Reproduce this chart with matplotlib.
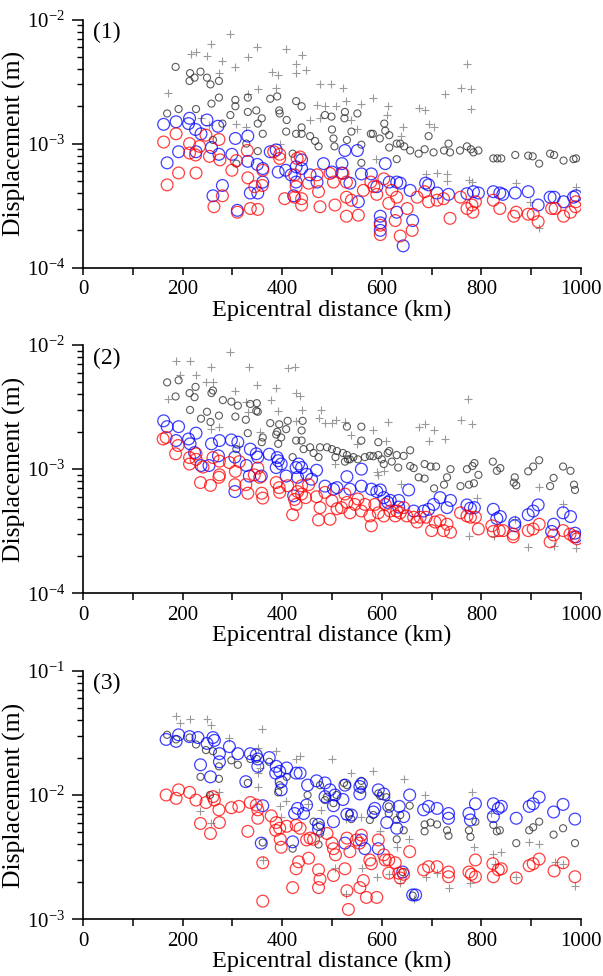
import numpy as np
import matplotlib
matplotlib.use("Agg")
import matplotlib.pyplot as plt
from matplotlib.ticker import LogLocator, MultipleLocator, FuncFormatter, NullFormatter

plt.rcParams['font.family'] = ['Liberation Serif', 'DejaVu Serif']
plt.rcParams['mathtext.fontset'] = 'custom'
plt.rcParams['mathtext.rm'] = 'Liberation Serif'
plt.rcParams['mathtext.it'] = 'Liberation Serif:italic'

# ---------------- Panel (1) ----------------
p1_plus = [(296, 7.7e-3), (171, 2.57e-3), (216, 5.3e-3), (227, 5.5e-3), (249, 5.07e-3), (258, 6.3e-3),
           (280, 4.6e-3), (273, 3.7e-3), (306, 4.15e-3), (331, 5.0e-3), (350, 6.0e-3), (408, 5.8e-3),
           (351, 2.78e-3), (331, 2.5e-3), (308, 1.45e-3), (328, 1.35e-3), (380, 3.8e-3), (392, 3.6e-3),
           (388, 2.8e-3), (428, 4.4e-3), (427, 3.7e-3), (395, 1.0e-3), (237, 1.6e-3), (254, 1.4e-3),
           (439, 5.2e-3), (447, 3.9e-3), (476, 3.05e-3), (499, 3.05e-3), (522, 2.8e-3), (528, 2.2e-3),
           (582, 2.35e-3), (470, 2.05e-3), (486, 2.0e-3), (509, 2.0e-3), (476, 1.6e-3), (455, 1.55e-3),
           (539, 1.55e-3), (551, 1.3e-3), (612, 2.0e-3), (610, 1.7e-3), (674, 1.95e-3), (686, 1.85e-3),
           (694, 1.45e-3), (704, 1.35e-3), (642, 1.35e-3), (639, 1.15e-3), (726, 2.5e-3), (759, 2.8e-3),
           (780, 2.75e-3), (780, 1.9e-3), (772, 4.4e-3), (589, 7.5e-4), (688, 5.7e-4), (710, 5.8e-4),
           (731, 5.7e-4), (731, 5.0e-4), (775, 5.1e-4), (782, 4.9e-4), (870, 4.8e-4), (898, 3.4e-4),
           (915, 2.1e-4), (990, 4.5e-4), (559, 2.1e-3)]
p1_gray = [(186, 4.15e-3), (215, 3.7e-3), (214, 3.2e-3), (224, 3.4e-3), (236, 3.8e-3), (249, 3.4e-3),
           (256, 3.0e-3), (273, 3.2e-3), (192, 1.9e-3), (169, 1.75e-3), (227, 1.9e-3), (258, 2.1e-3),
           (273, 2.35e-3), (280, 1.45e-3), (296, 1.7e-3), (306, 2.0e-3), (306, 2.25e-3), (331, 2.35e-3),
           (331, 1.8e-3), (348, 1.85e-3), (351, 1.45e-3), (359, 1.6e-3), (361, 1.2e-3), (376, 2.3e-3),
           (390, 2.4e-3), (394, 1.85e-3), (395, 1.75e-3), (409, 1.55e-3), (408, 1.25e-3), (428, 2.2e-3),
           (428, 1.2e-3), (351, 8.7e-4), (421, 8.3e-4), (328, 1.0e-3), (261, 1.07e-3), (308, 6.9e-4),
           (439, 2.0e-3), (439, 1.35e-3), (439, 1.2e-3), (456, 1.15e-3), (466, 1.05e-3), (473, 9.5e-4),
           (486, 1.7e-3), (499, 1.65e-3), (503, 1.1e-3), (505, 9.5e-4), (500, 1.3e-3), (526, 1.8e-3),
           (525, 1.6e-3), (530, 1.07e-3), (551, 1.75e-3), (539, 1.25e-3), (559, 9.8e-4), (559, 7.0e-4),
           (578, 1.2e-3), (582, 1.2e-3), (596, 1.1e-3), (605, 1.45e-3), (607, 1.27e-3), (615, 1.17e-3),
           (615, 9.3e-4), (630, 1.0e-3), (630, 7.5e-4), (637, 1.0e-3), (645, 9.5e-4), (657, 8.8e-4),
           (674, 8.3e-4), (686, 9.0e-4), (694, 1.15e-3), (704, 8.5e-4), (725, 8.8e-4), (734, 1.0e-3),
           (737, 8.5e-4), (757, 8.8e-4), (771, 9.5e-4), (779, 9.0e-4), (784, 8.5e-4), (794, 8.8e-4),
           (824, 7.6e-4), (832, 7.6e-4), (840, 7.6e-4), (868, 8.1e-4), (894, 8.0e-4), (903, 7.9e-4),
           (916, 6.9e-4), (938, 8.3e-4), (946, 8.1e-4), (965, 7.3e-4), (985, 7.5e-4), (990, 7.6e-4)]
p1_blue = [(162, 1.43e-3), (187, 1.5e-3), (214, 1.6e-3), (212, 1.45e-3), (226, 1.3e-3), (249, 1.55e-3),
           (237, 1.2e-3), (271, 1.38e-3), (306, 1.1e-3), (331, 1.15e-3), (169, 7.0e-4), (192, 8.6e-4),
           (227, 8.6e-4), (258, 9.3e-4), (273, 8.2e-4), (299, 8.2e-4), (331, 7.2e-4), (350, 6.8e-4),
           (361, 6.3e-4), (261, 3.8e-4), (280, 4.6e-4), (310, 2.9e-4), (336, 4.0e-4), (351, 4.0e-4),
           (361, 4.9e-4), (376, 8.6e-4), (388, 8.9e-4), (392, 5.9e-4), (407, 6.1e-4), (418, 5.6e-4),
           (428, 4.9e-4), (428, 6.5e-4), (423, 3.8e-4),
           (439, 7.4e-4), (439, 6.3e-4), (456, 5.6e-4), (470, 4.9e-4), (483, 6.9e-4), (500, 5.9e-4),
           (520, 6.9e-4), (526, 8.8e-4), (551, 8.8e-4), (520, 5.8e-4), (536, 4.8e-4), (553, 3.4e-4),
           (559, 5.7e-4), (579, 5.7e-4), (590, 4.5e-4), (607, 6.9e-4), (597, 2.6e-4), (597, 2.3e-4),
           (597, 2.0e-4), (615, 4.9e-4), (630, 4.9e-4), (630, 2.8e-4), (637, 4.8e-4), (657, 4.2e-4),
           (662, 2.4e-4), (643, 1.5e-4), (688, 4.8e-4), (694, 4.65e-4), (711, 4.0e-4), (734, 3.9e-4),
           (771, 3.95e-4), (784, 4.1e-4), (794, 4.0e-4), (824, 4.1e-4), (837, 4.0e-4), (843, 3.9e-4),
           (868, 4.0e-4), (894, 4.1e-4), (914, 3.2e-4), (938, 3.7e-4), (946, 3.7e-4), (965, 3.4e-4),
           (985, 3.7e-4), (990, 3.8e-4)]
p1_red = [(162, 1.03e-3), (187, 1.2e-3), (214, 1.0e-3), (214, 8.4e-4), (226, 8.1e-4), (234, 9.5e-4),
          (254, 7.9e-4), (247, 1.17e-3), (273, 1.08e-3), (275, 7.4e-4), (169, 4.65e-4), (192, 5.8e-4),
          (227, 5.8e-4), (263, 3.1e-4), (280, 3.8e-4), (299, 6.1e-4), (308, 7.3e-4), (330, 8.8e-4),
          (331, 5.3e-4), (310, 2.8e-4), (336, 3.0e-4), (351, 2.95e-4), (345, 4.5e-4), (361, 6.1e-4),
          (360, 4.6e-4), (383, 8.6e-4), (395, 8.2e-4), (395, 7.6e-4), (405, 3.6e-4), (425, 5.6e-4),
          (430, 7.6e-4), (428, 4.5e-4), (425, 3.7e-4),
          (436, 7.8e-4), (439, 3.6e-4), (439, 3.2e-4), (453, 4.8e-4), (470, 5.6e-4), (473, 4.1e-4),
          (476, 3.1e-4), (496, 5.75e-4), (503, 4.9e-4), (506, 3.2e-4), (522, 5.75e-4), (529, 4.9e-4),
          (529, 3.7e-4), (529, 2.6e-4), (539, 3.5e-4), (553, 2.65e-4), (563, 4.2e-4), (578, 4.9e-4),
          (584, 4.5e-4), (590, 3.9e-4), (597, 2.2e-4), (597, 1.85e-4), (604, 5.2e-4), (614, 3.3e-4),
          (620, 4.2e-4), (627, 2.4e-4), (630, 3.7e-4), (637, 1.8e-4), (651, 3.0e-4), (661, 2.0e-4),
          (671, 3.7e-4), (686, 4.1e-4), (694, 3.4e-4), (711, 3.5e-4), (724, 3.6e-4), (737, 2.5e-4),
          (758, 3.7e-4), (771, 3.0e-4), (781, 3.2e-4), (788, 3.4e-4), (783, 2.8e-4), (824, 3.5e-4),
          (837, 3.0e-4), (865, 2.6e-4), (870, 2.8e-4), (894, 2.7e-4), (904, 2.7e-4), (914, 2.35e-4),
          (941, 3.0e-4), (948, 3.0e-4), (965, 2.6e-4), (979, 2.8e-4), (989, 3.1e-4), (990, 3.4e-4)]

# ---------------- Panel (2) ----------------
p2_plus = [(186, 7.5e-3), (214, 7.5e-3), (194, 5.7e-3), (227, 5.7e-3), (247, 5.0e-3), (261, 5.0e-3),
           (258, 6.7e-3), (296, 8.8e-3), (306, 4.3e-3), (334, 6.6e-3), (350, 4.8e-3), (388, 4.5e-3),
           (411, 6.5e-3), (425, 6.6e-3), (428, 4.1e-3), (378, 3.6e-3), (391, 2.95e-3), (328, 3.5e-3),
           (331, 2.9e-3), (171, 3.65e-3), (274, 2.2e-3), (258, 2.1e-3), (355, 2.0e-3), (314, 1.55e-3),
           (428, 2.45e-3),
           (439, 3.0e-3), (436, 3.9e-3), (477, 3.0e-3), (473, 2.6e-3), (486, 2.35e-3), (500, 2.35e-3),
           (509, 2.5e-3), (526, 2.4e-3), (539, 1.9e-3), (551, 1.6e-3), (582, 2.05e-3), (612, 2.4e-3),
           (609, 1.7e-3), (591, 9.5e-4), (592, 9.0e-4), (605, 9.7e-4), (639, 7.6e-4), (674, 2.2e-3),
           (686, 2.3e-3), (694, 1.7e-3), (704, 2.05e-3), (726, 1.75e-3), (774, 3.7e-3), (759, 2.5e-3),
           (781, 2.3e-3), (791, 5.9e-4), (775, 2.9e-4), (825, 2.9e-4), (867, 4.0e-4), (894, 2.35e-4),
           (916, 7.2e-4), (964, 5.2e-4), (945, 2.4e-4), (990, 2.3e-4), (507, 1.1e-3)]
p2_gray = [(169, 5.0e-3), (192, 5.2e-3), (186, 3.85e-3), (214, 4.1e-3), (226, 4.6e-3), (224, 3.8e-3),
           (258, 4.1e-3), (261, 4.3e-3), (281, 3.6e-3), (298, 3.5e-3), (311, 3.25e-3), (336, 3.35e-3),
           (349, 3.4e-3), (348, 2.95e-3), (351, 2.9e-3), (215, 3.0e-3), (237, 2.55e-3), (249, 2.9e-3),
           (273, 2.7e-3), (256, 2.4e-3), (306, 2.65e-3), (327, 2.5e-3), (331, 1.95e-3), (376, 2.35e-3),
           (394, 2.3e-3), (390, 2.0e-3), (388, 1.9e-3), (408, 2.1e-3), (411, 2.45e-3), (361, 1.8e-3),
           (359, 1.65e-3), (392, 1.6e-3), (398, 1.8e-3), (421, 1.25e-3), (428, 1.7e-3), (308, 1.45e-3),
           (441, 2.45e-3), (439, 2.05e-3), (439, 1.7e-3), (443, 1.45e-3), (456, 1.5e-3), (463, 1.35e-3),
           (473, 1.25e-3), (476, 1.5e-3), (490, 1.5e-3), (500, 1.45e-3), (507, 1.25e-3), (510, 1.4e-3),
           (522, 1.35e-3), (526, 1.15e-3), (530, 1.3e-3), (530, 2.2e-3), (532, 1.2e-3), (536, 1.2e-3),
           (543, 1.25e-3), (552, 1.2e-3), (559, 1.7e-3), (559, 2.2e-3), (566, 1.25e-3), (576, 1.28e-3),
           (583, 1.27e-3), (593, 1.3e-3), (593, 1.65e-3), (600, 1.2e-3), (604, 1.1e-3), (612, 1.35e-3),
           (615, 1.4e-3), (620, 1.15e-3), (630, 1.3e-3), (633, 1.03e-3), (644, 1.28e-3), (657, 1.42e-3),
           (657, 1.06e-3), (664, 1.02e-3), (674, 8.6e-4), (686, 1.1e-3), (686, 8.4e-4), (698, 1.05e-3),
           (709, 1.05e-3), (705, 7.0e-4), (725, 7.5e-4), (731, 8.6e-4), (738, 1.0e-3), (758, 7.3e-4),
           (771, 1.0e-3), (775, 7.5e-4), (782, 1.06e-3), (785, 7.7e-4), (786, 1.12e-3), (794, 9.0e-4),
           (823, 1.15e-3), (831, 9.7e-4), (838, 1.02e-3), (867, 8.6e-4), (865, 7.8e-4), (870, 7.4e-4),
           (894, 9.6e-4), (904, 1.05e-3), (916, 1.18e-3), (938, 7.3e-4), (945, 8.5e-4), (964, 1.05e-3),
           (979, 9.7e-4), (986, 7.5e-4), (988, 6.8e-4)]
p2_blue = [(162, 2.45e-3), (169, 2.2e-3), (192, 2.2e-3), (187, 1.7e-3), (212, 1.75e-3), (227, 1.95e-3),
           (215, 1.6e-3), (224, 1.36e-3), (237, 1.07e-3), (253, 1.07e-3), (258, 1.6e-3), (274, 1.7e-3),
           (298, 1.72e-3), (311, 1.65e-3), (272, 1.28e-3), (305, 1.25e-3), (336, 1.45e-3), (348, 1.33e-3),
           (351, 1.25e-3), (374, 1.32e-3), (390, 1.24e-3), (392, 1.17e-3), (388, 1.03e-3), (398, 1.1e-3),
           (408, 8.8e-4), (428, 1.03e-3), (328, 1.07e-3), (334, 8.8e-4), (358, 8.8e-4), (305, 6.6e-4),
           (423, 6.1e-4), (433, 1.1e-3), (431, 8.6e-4),
           (439, 1.03e-3), (449, 9.1e-4), (459, 8.3e-4), (469, 9.8e-4), (486, 7.3e-4), (503, 6.9e-4),
           (510, 7.1e-4), (530, 8.7e-4), (536, 6.9e-4), (559, 1.0e-3), (559, 7.3e-4), (579, 6.9e-4),
           (590, 6.6e-4), (597, 6.8e-4), (604, 5.9e-4), (612, 5.4e-4), (617, 5.6e-4), (634, 5.6e-4),
           (634, 4.95e-4), (654, 6.8e-4), (664, 4.6e-4), (684, 4.6e-4), (694, 4.75e-4), (704, 5.2e-4),
           (717, 5.9e-4), (731, 4.9e-4), (738, 5.6e-4), (771, 5.15e-4), (778, 4.85e-4), (786, 4.9e-4),
           (824, 4.75e-4), (831, 4.0e-4), (838, 4.15e-4), (867, 3.5e-4), (867, 3.7e-4), (894, 4.3e-4),
           (904, 4.6e-4), (914, 5.15e-4), (941, 3.15e-4), (945, 3.6e-4), (964, 4.45e-4), (979, 4.15e-4),
           (988, 3.05e-4), (990, 2.85e-4)]
p2_red = [(161, 1.75e-3), (167, 1.8e-3), (186, 1.33e-3), (191, 1.55e-3), (214, 1.24e-3), (214, 1.1e-3),
          (227, 1.33e-3), (227, 1.2e-3), (236, 7.8e-4), (256, 7.4e-4), (241, 1.04e-3), (261, 1.24e-3),
          (274, 1.16e-3), (273, 8.6e-4), (274, 9.0e-4), (294, 1.13e-3), (306, 9.6e-4), (305, 7.5e-4),
          (314, 1.15e-3), (327, 7.5e-4), (331, 6.4e-4), (344, 9.0e-4), (351, 1.02e-3), (355, 8.6e-4),
          (359, 6.4e-4), (361, 5.85e-4), (388, 7.8e-4), (394, 7.1e-4), (395, 6.5e-4), (411, 7.35e-4),
          (421, 4.3e-4), (425, 5.7e-4), (431, 6.6e-4), (428, 5.2e-4),
          (439, 7.35e-4), (439, 6.3e-4), (447, 5.9e-4), (453, 7.5e-4), (469, 6.0e-4), (473, 3.9e-4),
          (476, 4.9e-4), (486, 6.5e-4), (496, 3.95e-4), (500, 5.55e-4), (510, 4.8e-4), (519, 4.9e-4),
          (526, 6.3e-4), (530, 5.4e-4), (536, 4.45e-4), (546, 5.2e-4), (552, 5.75e-4), (559, 4.6e-4),
          (566, 5.2e-4), (576, 4.2e-4), (579, 3.5e-4), (586, 5.2e-4), (593, 4.45e-4), (604, 4.2e-4),
          (607, 5.2e-4), (617, 4.6e-4), (627, 4.2e-4), (630, 4.6e-4), (637, 4.45e-4), (644, 4.9e-4),
          (650, 4.2e-4), (664, 4.1e-4), (671, 3.75e-4), (677, 4.1e-4), (689, 4.1e-4), (700, 3.2e-4),
          (707, 3.75e-4), (717, 3.85e-4), (724, 3.2e-4), (731, 3.6e-4), (738, 3.1e-4), (758, 4.45e-4),
          (771, 4.2e-4), (778, 4.1e-4), (788, 4.1e-4), (794, 3.3e-4), (821, 3.5e-4), (824, 3.15e-4),
          (836, 3.2e-4), (844, 3.2e-4), (864, 3.0e-4), (864, 2.85e-4), (894, 3.2e-4), (904, 3.3e-4),
          (916, 3.6e-4), (938, 2.6e-4), (945, 2.95e-4), (964, 3.2e-4), (978, 3.0e-4), (986, 2.85e-4),
          (992, 2.75e-4)]

# ---------------- Panel (3) ----------------
p3_plus = [(186, 4.3e-2), (194, 3.8e-2), (214, 4.1e-2), (249, 4.1e-2), (258, 3.65e-2), (294, 2.9e-2),
           (359, 3.4e-2), (388, 2.25e-2), (351, 2.4e-2), (351, 1.5e-2), (351, 1.15e-2), (274, 1.05e-2),
           (254, 1.0e-2), (234, 7.5e-3), (258, 5.9e-3), (395, 8.1e-3), (408, 9.0e-3), (398, 6.7e-3),
           (361, 3.0e-3), (428, 1.95e-2), (355, 1.65e-2),
           (436, 2.05e-2), (500, 1.95e-2), (539, 1.5e-2), (582, 1.55e-2), (645, 1.35e-2), (686, 1.0e-2),
           (781, 1.05e-2), (451, 8.5e-3), (477, 7.6e-3), (528, 6.4e-3), (559, 6.7e-3), (597, 5.1e-3),
           (655, 4.4e-3), (590, 2.2e-3), (614, 2.3e-3), (630, 3.85e-3), (637, 1.95e-3), (560, 2.6e-3),
           (529, 1.6e-3), (507, 2.6e-3), (664, 1.45e-3), (689, 2.2e-3), (711, 2.35e-3), (734, 1.8e-3),
           (778, 1.95e-3), (785, 3.85e-3), (824, 3.35e-3), (840, 3.45e-3), (870, 2.2e-3), (896, 4.2e-3),
           (916, 4.0e-3), (948, 2.9e-3), (964, 2.8e-3), (988, 1.85e-3), (828, 2.8e-3), (820, 7.1e-3)]
p3_gray = [(169, 3.05e-2), (187, 2.8e-2), (214, 2.9e-2), (227, 2.55e-2), (247, 2.3e-2), (261, 2.25e-2),
           (273, 1.7e-2), (298, 1.9e-2), (311, 1.75e-2), (336, 1.95e-2), (349, 1.95e-2), (374, 1.85e-2),
           (236, 1.4e-2), (273, 1.35e-2), (331, 1.25e-2), (361, 4.15e-3), (421, 3.7e-3), (409, 1.4e-2),
           (395, 1.2e-2), (392, 1.05e-2), (255, 1.0e-2),
           (451, 1.0e-2), (476, 1.2e-2), (486, 9.1e-3), (490, 9.7e-3), (503, 8.6e-3), (509, 1.0e-2),
           (524, 1.25e-2), (530, 1.2e-2), (536, 7.1e-3), (539, 6.4e-3), (559, 1.3e-2), (559, 1.1e-2),
           (576, 6.3e-3), (583, 6.9e-3), (593, 1.03e-2), (597, 9.8e-3), (609, 9.6e-3), (614, 8.1e-3),
           (614, 7.1e-3), (630, 6.3e-3), (630, 4.4e-3), (637, 6.9e-3), (644, 5.2e-3), (656, 8.2e-3),
           (476, 4.9e-3), (476, 5.7e-3), (463, 6.1e-3), (473, 4.0e-3), (686, 5.8e-3), (686, 5.1e-3),
           (698, 6.0e-3), (711, 5.8e-3), (731, 5.2e-3), (734, 4.7e-3), (775, 5.2e-3), (778, 4.6e-3),
           (788, 6.1e-3), (824, 5.75e-3), (831, 5.1e-3), (837, 5.2e-3), (870, 4.1e-3), (896, 5.2e-3),
           (904, 5.5e-3), (916, 6.1e-3), (945, 4.8e-3), (964, 5.4e-3), (988, 4.1e-3), (662, 1.55e-3),
           (642, 2.4e-3)]
p3_blue = [(167, 2.8e-2), (187, 2.7e-2), (192, 3.05e-2), (214, 2.95e-2), (231, 2.9e-2), (249, 2.6e-2),
           (261, 2.9e-2), (264, 2.75e-2), (274, 2.15e-2), (274, 1.85e-2), (236, 1.75e-2), (256, 1.4e-2),
           (294, 2.45e-2), (311, 2.15e-2), (336, 2.15e-2), (348, 2.1e-2), (351, 1.95e-2), (351, 1.7e-2),
           (327, 1.28e-2), (374, 2.0e-2), (388, 1.7e-2), (387, 1.5e-2), (395, 1.55e-2), (398, 1.28e-2),
           (398, 1.1e-2), (409, 1.65e-2), (428, 1.5e-2), (361, 8.2e-3), (358, 4.1e-3), (421, 4.2e-3),
           (425, 7.1e-3), (431, 7.8e-3),
           (436, 1.5e-2), (451, 1.2e-2), (469, 1.3e-2), (486, 1.25e-2), (486, 9.7e-3), (496, 1.1e-2),
           (506, 1.0e-2), (522, 9.2e-3), (526, 1.2e-2), (530, 7.0e-3), (539, 6.9e-3), (556, 1.17e-2),
           (559, 1.23e-2), (556, 1.02e-2), (503, 8.2e-3), (503, 6.1e-3), (473, 5.3e-3), (473, 5.8e-3),
           (449, 8.3e-3), (443, 7.1e-3), (526, 4.1e-3), (559, 4.35e-3), (566, 3.7e-3), (583, 7.3e-3),
           (586, 7.8e-3), (593, 1.1e-2), (604, 1.02e-2), (614, 8.1e-3), (610, 6.0e-3), (630, 5.4e-3),
           (635, 8.1e-3), (644, 6.7e-3), (656, 1.0e-2), (593, 3.7e-3), (662, 1.57e-3), (668, 1.57e-3),
           (642, 2.4e-3), (684, 7.6e-3), (694, 8.1e-3), (711, 7.8e-3), (734, 7.1e-3), (734, 6.5e-3),
           (775, 7.1e-3), (778, 6.3e-3), (788, 8.5e-3), (824, 8.5e-3), (824, 6.7e-3), (834, 7.8e-3),
           (840, 8.1e-3), (870, 6.5e-3), (896, 8.1e-3), (904, 8.5e-3), (916, 9.6e-3), (945, 7.3e-3),
           (964, 8.4e-3), (988, 6.4e-3)]
p3_red = [(167, 1.0e-2), (187, 9.4e-3), (192, 1.1e-2), (214, 1.05e-2), (227, 9.1e-3), (247, 8.7e-3),
          (261, 9.7e-3), (264, 9.1e-3), (273, 7.6e-3), (236, 5.9e-3), (256, 4.9e-3), (274, 6.0e-3),
          (298, 7.9e-3), (313, 8.1e-3), (336, 8.7e-3), (348, 8.3e-3), (351, 7.6e-3), (351, 6.5e-3),
          (331, 5.1e-3), (378, 6.8e-3), (388, 6.0e-3), (387, 5.2e-3), (395, 5.4e-3), (396, 4.4e-3),
          (398, 3.8e-3), (409, 5.6e-3), (428, 5.7e-3), (361, 2.85e-3), (361, 1.4e-3), (421, 1.8e-3),
          (428, 2.55e-3), (433, 2.9e-3),
          (436, 5.4e-3), (449, 4.35e-3), (456, 4.5e-3), (453, 3.1e-3), (463, 4.4e-3), (473, 2.5e-3),
          (473, 1.8e-3), (476, 2.1e-3), (490, 4.9e-3), (500, 4.1e-3), (503, 3.7e-3), (503, 2.25e-3),
          (507, 3.3e-3), (530, 4.5e-3), (530, 1.7e-3), (533, 1.2e-3), (526, 2.55e-3), (536, 3.5e-3),
          (549, 4.35e-3), (555, 4.1e-3), (559, 4.75e-3), (556, 1.8e-3), (563, 2.05e-3), (569, 1.5e-3),
          (576, 3.0e-3), (579, 2.8e-3), (590, 1.5e-3), (593, 4.35e-3), (604, 3.3e-3), (607, 3.0e-3),
          (614, 3.0e-3), (614, 2.35e-3), (627, 2.85e-3), (634, 2.35e-3), (637, 2.15e-3), (644, 2.3e-3),
          (656, 3.5e-3), (684, 2.5e-3), (694, 2.65e-3), (711, 2.65e-3), (734, 2.4e-3), (734, 2.2e-3),
          (775, 2.4e-3), (780, 2.3e-3), (788, 2.2e-3), (788, 3.0e-3), (824, 2.2e-3), (823, 2.8e-3),
          (834, 2.5e-3), (840, 2.55e-3), (870, 2.15e-3), (896, 2.7e-3), (904, 2.8e-3), (916, 3.05e-3),
          (946, 2.45e-3), (964, 2.85e-3), (988, 2.2e-3)]

panel_labels = ['(1)', '(2)', '(3)']
panel_ylims = [(1e-4, 1e-2), (1e-4, 1e-2), (1e-3, 1e-1)]
xlabel_text = 'Epicentral distance (km)'
ylabel_text = 'Displacement (m)'

panels = [(p1_plus, p1_gray, p1_blue, p1_red),
          (p2_plus, p2_gray, p2_blue, p2_red),
          (p3_plus, p3_gray, p3_blue, p3_red)]

positions = [[0.1376, 0.7257, 0.8259, 0.2543],
             [0.1376, 0.3921, 0.8259, 0.2544],
             [0.1376, 0.0581, 0.8259, 0.2547]]

fig = plt.figure(figsize=(6.03, 9.76), dpi=100)


def xy(pairs):
    a = np.array(pairs, dtype=float)
    return a[:, 0], a[:, 1]


def dec_fmt(v, pos):
    e = int(round(np.log10(v)))
    return r'$\mathrm{10}^{\mathrm{%d}}$' % e


for i, (series, pos) in enumerate(zip(panels, positions)):
    ax = fig.add_axes(pos)
    plus, gray, blue, red = series
    x, y = xy(plus)
    ax.scatter(x, y, marker='+', s=32, c='#9a9a9a', linewidths=0.8, zorder=2)
    x, y = xy(gray)
    ax.scatter(x, y, marker='o', s=26, facecolors='none', edgecolors=(0.2, 0.2, 0.2, 0.8),
               linewidths=0.8, zorder=3)
    x, y = xy(blue)
    ax.scatter(x, y, marker='o', s=72, facecolors='none', edgecolors=(0, 0, 1, 0.75),
               linewidths=0.9, zorder=4)
    x, y = xy(red)
    ax.scatter(x, y, marker='o', s=72, facecolors='none', edgecolors=(1, 0, 0, 0.75),
               linewidths=0.9, zorder=5)

    ax.set_yscale('log')
    ax.set_xlim(0, 1000)
    ax.set_ylim(*panel_ylims[i])
    for s in ['top', 'right']:
        ax.spines[s].set_visible(False)
    for s in ['left', 'bottom']:
        ax.spines[s].set_linewidth(1.2)
    ax.xaxis.set_major_locator(MultipleLocator(200))
    ax.xaxis.set_minor_locator(MultipleLocator(100))
    ax.yaxis.set_major_locator(LogLocator(base=10, numticks=10))
    ax.yaxis.set_minor_locator(LogLocator(base=10, subs=np.arange(2, 10), numticks=10))
    ax.yaxis.set_major_formatter(FuncFormatter(dec_fmt))
    ax.yaxis.set_minor_formatter(NullFormatter())
    ax.tick_params(axis='x', which='both', direction='out', length=5, width=1.1, labelsize=15, pad=4)
    ax.tick_params(axis='y', which='major', direction='out', length=8, width=1.1, labelsize=15, pad=5)
    ax.tick_params(axis='y', which='minor', direction='out', length=4, width=1.0)
    ax.set_xlabel(xlabel_text, fontsize=17.5)
    ax.set_ylabel(ylabel_text, fontsize=18.5)
    ax.xaxis.set_label_coords(0.5, -0.128)
    ax.yaxis.set_label_coords(-0.114, 0.5)
    ax.text(0.02, 0.99, panel_labels[i], transform=ax.transAxes, fontsize=17, va='top', ha='left')

fig.savefig('out.png', dpi=100)
